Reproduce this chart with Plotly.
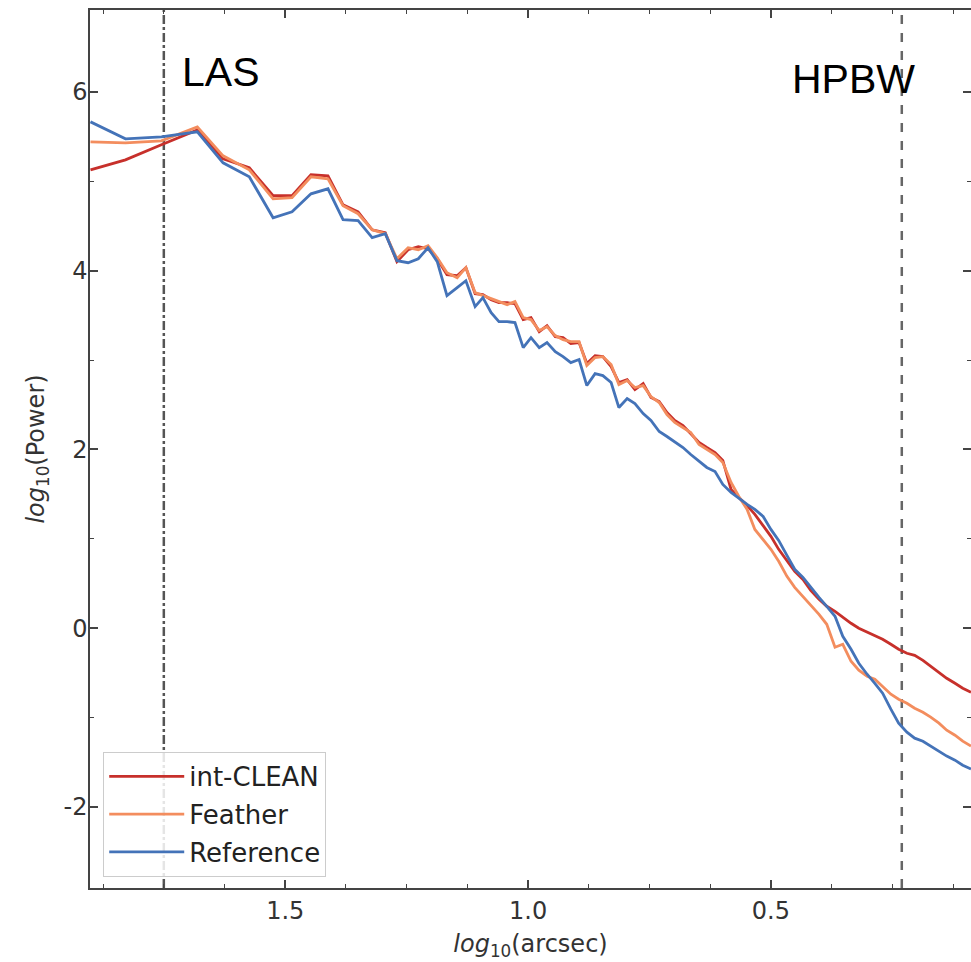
import plotly.graph_objects as go

# log10(arcsec) sample positions
log_scale = [1.901, 1.829, 1.755, 1.681, 1.628, 1.574, 1.525, 1.486, 1.447, 1.412,
             1.381, 1.350, 1.321, 1.294, 1.270, 1.247, 1.226, 1.206, 1.187, 1.167,
             1.146, 1.128, 1.109, 1.093, 1.076, 1.060, 1.043, 1.027, 1.010, 0.994,
             0.977, 0.961, 0.944, 0.928, 0.912, 0.895, 0.879, 0.862, 0.846, 0.829,
             0.813, 0.796, 0.780, 0.763, 0.747, 0.730, 0.714, 0.698, 0.681, 0.665,
             0.648, 0.632, 0.615, 0.599, 0.582, 0.566, 0.549, 0.533, 0.516, 0.500,
             0.484, 0.467, 0.451, 0.434, 0.418, 0.401, 0.385, 0.368, 0.352, 0.335,
             0.319, 0.302, 0.286, 0.270, 0.253, 0.237, 0.220, 0.204, 0.187, 0.171,
             0.154, 0.138, 0.121, 0.105, 0.088]

int_clean = [5.128, 5.240, 5.408, 5.575, 5.251, 5.151, 4.838, 4.838, 5.073, 5.061,
             4.737, 4.659, 4.458, 4.425, 4.101, 4.235, 4.268, 4.246, 4.134, 3.955,
             3.944, 4.034, 3.743, 3.732, 3.676, 3.642, 3.642, 3.631, 3.453, 3.475,
             3.318, 3.385, 3.263, 3.251, 3.184, 3.196, 2.961, 3.050, 3.039, 2.927,
             2.749, 2.782, 2.670, 2.737, 2.581, 2.536, 2.413, 2.324, 2.268, 2.179,
             2.078, 2.022, 1.966, 1.877, 1.553, 1.464, 1.374, 1.274, 1.140, 1.028,
             0.883, 0.760, 0.637, 0.547, 0.425, 0.324, 0.246, 0.190, 0.123, 0.056,
             0.000, -0.045, -0.089, -0.123, -0.179, -0.235, -0.279, -0.302, -0.358, -0.425,
             -0.492, -0.559, -0.615, -0.670, -0.715]

feather = [5.441, 5.430, 5.453, 5.609, 5.285, 5.128, 4.804, 4.816, 5.050, 5.028,
           4.726, 4.637, 4.458, 4.413, 4.134, 4.257, 4.235, 4.279, 4.145, 3.978,
           3.922, 4.034, 3.754, 3.721, 3.687, 3.654, 3.620, 3.654, 3.475, 3.453,
           3.330, 3.374, 3.274, 3.229, 3.207, 3.207, 2.939, 3.028, 3.039, 2.950,
           2.726, 2.771, 2.693, 2.715, 2.592, 2.525, 2.391, 2.302, 2.246, 2.190,
           2.056, 2.000, 1.944, 1.855, 1.631, 1.475, 1.330, 1.106, 0.994, 0.883,
           0.749, 0.581, 0.458, 0.358, 0.268, 0.156, 0.045, -0.212, -0.179, -0.369,
           -0.469, -0.536, -0.570, -0.648, -0.737, -0.793, -0.838, -0.894, -0.939, -0.994,
           -1.061, -1.140, -1.196, -1.263, -1.318]

reference = [5.665, 5.475, 5.497, 5.553, 5.207, 5.050, 4.592, 4.659, 4.860, 4.916,
             4.570, 4.559, 4.369, 4.413, 4.112, 4.089, 4.134, 4.257, 4.101, 3.721,
             3.810, 3.888, 3.598, 3.698, 3.531, 3.430, 3.430, 3.419, 3.140, 3.251,
             3.140, 3.196, 3.095, 3.039, 2.972, 3.006, 2.715, 2.849, 2.827, 2.749,
             2.469, 2.570, 2.514, 2.402, 2.324, 2.201, 2.145, 2.089, 2.022, 1.944,
             1.866, 1.799, 1.754, 1.609, 1.520, 1.453, 1.385, 1.330, 1.251, 1.106,
             0.983, 0.816, 0.660, 0.570, 0.458, 0.346, 0.246, 0.134, -0.089, -0.235,
             -0.391, -0.514, -0.615, -0.726, -0.905, -1.061, -1.162, -1.229, -1.263, -1.318,
             -1.374, -1.430, -1.475, -1.531, -1.575]

series_names = ["int-CLEAN", "Feather", "Reference"]
series_colors = ["#c7302b", "#f38d5e", "#4473b8"]

x_tick_vals = [1.5, 1.0, 0.5]
x_tick_text = ["1.5", "1.0", "0.5"]
y_tick_vals = [-2, 0, 2, 4, 6]
y_tick_text = ["-2", "0", "2", "4", "6"]

las_x = 1.75
hpbw_x = 0.2305

FONT = "DejaVu Sans"

fig = go.Figure()
for name, ys, col in zip(series_names, [int_clean, feather, reference], series_colors):
    fig.add_trace(go.Scatter(x=log_scale, y=ys, mode="lines", name=name, legendgroup=name,
                             line=dict(color=col, width=2.8)))

fig.add_shape(type="line", xref="x", yref="paper", x0=las_x, x1=las_x, y0=0, y1=1,
              line=dict(color="#555555", width=2.5, dash="dashdot"), layer="below")
fig.add_shape(type="line", xref="x", yref="paper", x0=hpbw_x, x1=hpbw_x, y0=0, y1=1,
              line=dict(color="#666666", width=2.5, dash="dash"), layer="below")

fig.add_annotation(x=1.716, y=6.22, xref="x", yref="y", text="LAS", showarrow=False,
                   xanchor="left", yanchor="middle",
                   font=dict(family="Liberation Sans", size=41, color="black"))
fig.add_annotation(x=0.461, y=6.145, xref="x", yref="y", text="HPBW", showarrow=False,
                   xanchor="left", yanchor="middle",
                   font=dict(family="Liberation Sans", size=41, color="black"))

axis_common = dict(showline=True, linecolor="#444444", linewidth=1.5, mirror="allticks",
                   ticks="inside", ticklen=8, tickwidth=1.5, tickcolor="#444444",
                   showgrid=False, zeroline=False, automargin=False,
                   tickfont=dict(family=FONT, size=24, color="#333333"))

fig.update_xaxes(range=[1.902, 0.088], tickmode="array", tickvals=x_tick_vals,
                 ticktext=x_tick_text,
                 minor=dict(dtick=0.125, tick0=0, ticks="inside", ticklen=4, tickwidth=1.2,
                            tickcolor="#444444"),
                 title=dict(text="<i>log</i><sub>10</sub>(arcsec)",
                            font=dict(family=FONT, size=24, color="#333333"), standoff=12),
                 **axis_common)
fig.update_yaxes(range=[-2.905, 6.916], tickmode="array", tickvals=y_tick_vals,
                 ticktext=y_tick_text, ticklabelstandoff=-4,
                 minor=dict(dtick=1, tick0=0, ticks="inside", ticklen=4, tickwidth=1.2,
                            tickcolor="#444444"),
                 title=dict(text="<i>log</i><sub>10</sub>(Power)",
                            font=dict(family=FONT, size=24, color="#333333"), standoff=12),
                 **axis_common)

fig.update_layout(
    width=971, height=962,
    margin=dict(l=90, r=0, t=10, b=74),
    plot_bgcolor="white", paper_bgcolor="white",
    showlegend=True,
    legend=dict(x=0.015, y=0.155, xanchor="left", yanchor="top",
                bgcolor="rgba(255,255,255,0.85)", bordercolor="#cccccc", borderwidth=1,
                font=dict(family=FONT, size=26, color="#222222"),
                itemwidth=75, tracegroupgap=1),
)

fig.write_html("out.html", config={"displayModeBar": False},
               post_script="document.body.style.margin='0';")
